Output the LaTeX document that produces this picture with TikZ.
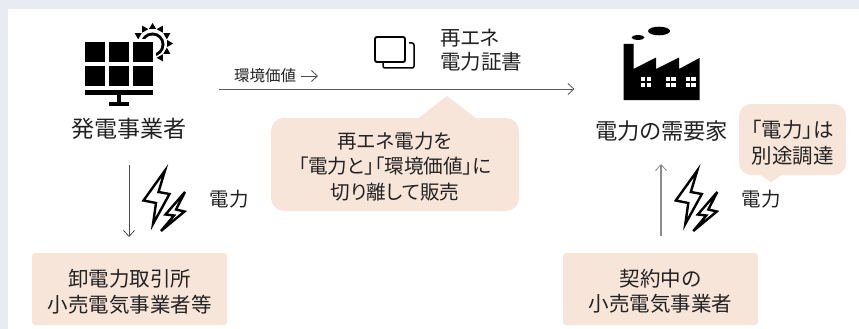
\documentclass[tikz,border=0pt]{standalone}
\usepackage{fontspec}
\usetikzlibrary{arrows.meta}
\newfontfamily\jp[RawFeature={+palt}]{Noto Sans CJK JP}
\definecolor{pagebg}{HTML}{E8ECF2}
\definecolor{peach}{HTML}{F8E5DA}
\definecolor{ink}{HTML}{222222}
\newcommand{\jpsize}[2]{\jp\fontsize{#1}{#2}\selectfont}
\tikzset{
  label20/.style={font=\jpsize{20}{24},text=ink,inner sep=0pt,align=center},
  label22/.style={font=\jpsize{23}{26},text=ink,inner sep=0pt,align=center},
  peachbox/.style={fill=peach,rounded corners=#1,inner sep=0pt},
  peachtext/.style={align=center,text=ink,inner sep=0pt,font=\jpsize{#1}{25.5}},
  flow/.style={draw=#1,line width=0.9pt,-{Straight Barb[length=6pt,width=11pt,line width=0.8pt]}},
  bolt/.style={draw=black,fill=white,line width=2.4pt,line join=miter,miter limit=8},
  pics/boltpair/.style={code={
    \draw[bolt] (165,170.5) -- (143.5,200.5) -- (156,203) -- (153,224) -- (169.5,194) -- (158.5,192) -- cycle;
    \draw[bolt] (185,192) -- (165.5,214.5) -- (174,215.5) -- (161,231) -- (184.5,211.5) -- (176,209.5) -- cycle;
  }}
}
\begin{document}
\begin{tikzpicture}[x=1pt,y=-1pt]
\useasboundingbox (0,0) rectangle (859,329);
\fill[pagebg] (0,0) rectangle (859,329);
\fill[white] (8,9) rectangle (859,329);

% solar panel
\fill[black] (152.5,44.5) circle (12);
\fill[white] (152.5,44.5) circle (9);
\foreach \a in {0,30,60,90,120,150,-30,-60}{
  \fill[black] ({152.5+20.5*cos(\a)},{43.5-20.5*sin(\a)})
    -- ({152.5+14.5*cos(\a)+3.6*sin(\a)},{43.5-14.5*sin(\a)+3.6*cos(\a)})
    -- ({152.5+14.5*cos(\a)-3.6*sin(\a)},{43.5-14.5*sin(\a)-3.6*cos(\a)}) -- cycle;
}
\fill[white] (81,39) rectangle (156,90);
\foreach \x in {85,109,133}{\foreach \y in {42,66}{\fill[black] (\x,\y) rectangle ++(20,20);}}
\fill[black] (85,90) rectangle (153,94.5);
\fill[black] (117,94) rectangle (121,103);
\fill[black] (109,102) rectangle (129,106);
\node[label22] (gen) at (129,129) {発電事業者};

% factory
\fill[black] (623.5,44) -- (633.5,44) -- (633.5,69) -- (656,57.5) -- (656,69) -- (679,57.5) -- (679,69) -- (699.5,58) -- (699.5,100) -- (623.5,100) -- cycle;
\fill[black] (659,31) ellipse (11 and 4.3);
\fill[black] (638,37.5) ellipse (6.5 and 2.4);
\foreach \x in {641,665.5,685.5}{
  \foreach \u in {0,5.8}{\foreach \v in {0,6}{\fill[white] (\x+\u,76.5+\v) rectangle ++(4.3,4.5);}}
}
\node[label22,font=\jpsize{22.3}{26}] (cons) at (661.5,131) {電力の需要家};

% certificate icon
\draw[black,line width=1.9pt,rounded corners=2pt] (375,37) rectangle (405,62);
\draw[black,line width=1.5pt,rounded corners=2pt] (409,43) -- (414,43) -- (414,68) -- (383,68) -- (383,63);
\node[label20,align=left,anchor=west,font=\jpsize{20.5}{24.5}] (cert) at (440,50) {再エネ\\電力証書};

% value flow
\coordinate (vs) at (219,89);
\coordinate (ve) at (574.5,89);
\draw[flow=black!65] (vs) -- (ve);
\node[font=\jpsize{15.5}{16},text=ink,inner sep=0pt] (val) at (265,76) {環境価値};
\coordinate (vas) at (301,76);
\coordinate (vae) at (318,76);
\draw[flow=black!70] (vas) -- (vae);

% main callout
\fill[peach] (417,119) -- (447,96) -- (477,119) -- cycle;
\node[peachbox=13pt,minimum width=248pt,minimum height=93pt] (c1) at (395,164.5) {};
\node[peachtext=19.6] (c1t) at ([yshift=-2pt]c1.center) {再エネ電力を\\「電力と」「環境価値」に\\切り離して販売};

% small callout
\fill[peach] (759,174) -- (771,182) -- (783,174) -- cycle;
\node[peachbox=12pt,minimum width=107pt,minimum height=71pt] (c2) at (792.5,139.5) {};
\node[peachtext=20.5] (c2t) at ([yshift=-3pt]c2.center) {「電力」は\\別途調達};

% left branch
\node[peachbox=3pt,minimum width=195pt,minimum height=72pt] (lb) at (129.5,289) {};
\node[peachtext=20.5] (lbt) at ([yshift=-2.5pt]lb.center) {卸電力取引所\\小売電気事業者等};
\coordinate (ls) at (129,165);
\coordinate (le) at (129,237);
\draw[flow=black!70] (ls) -- (le);
\pic at (0,0) {boltpair};
\node[label20,font=\jpsize{19.5}{24}] (pl) at (229,199) {電力};

% right branch
\node[peachbox=3pt,minimum width=195pt,minimum height=72pt] (rb) at (660.5,289) {};
\node[peachtext=20.5] (rbt) at ([yshift=-2.5pt]rb.center) {契約中の\\小売電気事業者};
\coordinate (rs) at (661,236);
\coordinate (re) at (661,164);
\draw[flow=black!45,line width=1.2pt] (rs) -- (re);
\pic at (532.3,0) {boltpair};
\node[label20,font=\jpsize{19.5}{24}] (pr) at (761,199) {電力};
\end{tikzpicture}
\end{document}
